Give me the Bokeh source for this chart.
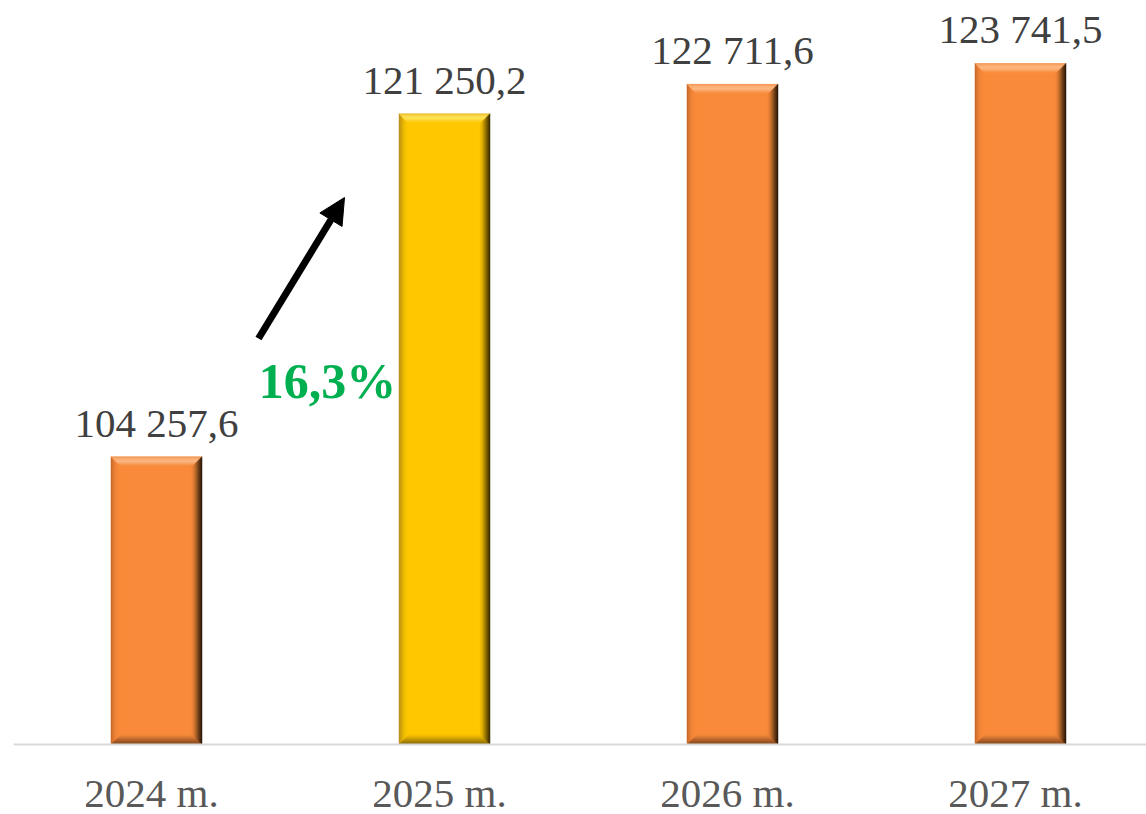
import numpy as np
from bokeh.plotting import figure
from bokeh.models import Range1d, Span, Arrow, NormalHead
from bokeh.core.properties import value
from bokeh.embed import file_html
from bokeh.resources import INLINE

# ---- data ----
years = ["2024 m.", "2025 m.", "2026 m.", "2027 m."]
values = [104257.6, 121250.2, 122711.6, 123741.5]
value_labels = ["104 257,6", "121 250,2", "122 711,6", "123 741,5"]
growth_label = "16,3%"
baseline = 90000.0

# ---- layout ----
W, H = 1146, 814
LEFT = 13
frame_w = W - LEFT
cat_px = 288.0
first_center_px = 143.0
x_start = -first_center_px / cat_px
x_end = x_start + frame_w / cat_px
upp = 49.546  # data units per pixel (y)
below_px, above_px = 70, 744
y_start = baseline - below_px * upp
y_end = baseline + above_px * upp

p = figure(width=W, height=H, x_range=Range1d(x_start, x_end), y_range=Range1d(y_start, y_end),
           output_backend="svg", toolbar_location=None, x_axis_type=None, y_axis_type=None,
           min_border_left=LEFT, min_border_right=0, min_border_top=0, min_border_bottom=0,
           outline_line_color=None, background_fill_color="white", border_fill_color="white")
p.grid.visible = False

# axis line
p.add_layout(Span(location=baseline, dimension="width", line_color="#D9D9D9", line_width=2))

xs = list(range(len(values)))
bw = 91.0 / cat_px

styles = {
    "orange": {
        "main": "#F98A3A",
        "top": ["#F29A5A", "#FCB47C", "#FDBB86", "#FAA162", "#F98C3D"],
        "right": ["#2E1A0A", "#5C3415", "#905221", "#C46F2D", "#EB8337"],
        "bottom": ["#784317", "#945120", "#B0622A", "#D27532", "#F18639"],
        "left": ["#C96A2A", "#E27A32", "#F08437", "#F7893A", "#F98A3A"],
    },
    "yellow": {
        "main": "#FFC700",
        "top": ["#EAC040", "#FDE050", "#FEE65A", "#FCD22C", "#FFC803"],
        "right": ["#3A2C00", "#6B5300", "#9D7A00", "#CFA000", "#F2BC00"],
        "bottom": ["#7A5E00", "#9A7800", "#BA9000", "#DAA900", "#F4BF00"],
        "left": ["#B89020", "#D6A808", "#EABA02", "#F8C400", "#FFC700"],
    },
}
bar_style = ["orange", "yellow", "orange", "orange"]


def hex2rgb(h):
    h = h.lstrip("#")
    return np.array([int(h[i:i + 2], 16) for i in (0, 2, 4)], dtype=float)


def interp(stops, n):
    arr = [hex2rgb(s) for s in stops]
    out = []
    for k in range(n):
        t = k / (n - 1) * (len(arr) - 1)
        i = min(int(t), len(arr) - 2)
        f = t - i
        c = arr[i] * (1 - f) + arr[i + 1] * f
        out.append("#%02x%02x%02x" % tuple(int(round(v)) for v in c))
    return out


bev_px = 10
n = 10
# main bars
p.quad(left=[x - bw / 2 for x in xs], right=[x + bw / 2 for x in xs], bottom=baseline, top=values,
       fill_color=[styles[s]["main"] for s in bar_style], line_color=None)

pxs, pys, pcs = [], [], []
for i, (x, v) in enumerate(zip(xs, values)):
    st = styles[bar_style[i]]
    xl, xr, yb, yt = x - bw / 2, x + bw / 2, baseline, v
    cols = {side: interp(st[side], n) for side in ("top", "right", "bottom", "left")}
    for k in range(n):
        ta, tb = k * bev_px / n, (k + 1) * bev_px / n
        dxa, dxb = ta / cat_px, tb / cat_px
        dya, dyb = ta * upp, tb * upp
        # left
        pxs.append([xl + dxa, xl + dxa, xl + dxb, xl + dxb]); pys.append([yt - dya, yb + dya, yb + dyb, yt - dyb]); pcs.append(cols["left"][k])
        # bottom
        pxs.append([xl + dxa, xr - dxa, xr - dxb, xl + dxb]); pys.append([yb + dya, yb + dya, yb + dyb, yb + dyb]); pcs.append(cols["bottom"][k])
        # top
        pxs.append([xl + dxa, xr - dxa, xr - dxb, xl + dxb]); pys.append([yt - dya, yt - dya, yt - dyb, yt - dyb]); pcs.append(cols["top"][k])
        # right
        pxs.append([xr - dxa, xr - dxa, xr - dxb, xr - dxb]); pys.append([yt - dya, yb + dya, yb + dyb, yt - dyb]); pcs.append(cols["right"][k])

p.patches(xs=pxs, ys=pys, fill_color=pcs, line_color=pcs, line_width=0.5)

# value labels
p.text(x=xs, y=[v + 34 * upp for v in values], text=value_labels,
       text_font=value("Liberation Serif"), text_font_size="41px", text_color="#404040",
       text_align="center", text_baseline="middle")

# category labels
p.text(x=xs, y=[baseline - 48 * upp] * len(xs), text=years, x_offset=-5,
       text_font=value("Liberation Serif"), text_font_size="41px", text_color="#595959",
       text_align="center", text_baseline="middle")

# growth arrow and label (between the first two bars)
ax0 = xs[0] + 102.0 / cat_px
ay0 = baseline + 406 * upp
ax1 = xs[0] + 188.0 / cat_px
ay1 = baseline + 547 * upp
p.add_layout(Arrow(end=NormalHead(size=26, fill_color="black", line_color="black"),
                   x_start=ax0, y_start=ay0, x_end=ax1, y_end=ay1,
                   line_width=7, line_color="black", line_cap="butt"))
p.text(x=[xs[0] + 171.0 / cat_px], y=[baseline + 364 * upp], text=[growth_label],
       text_font=value("Liberation Serif"), text_font_size="50px", text_font_style="bold",
       text_color="#00B050", text_align="center", text_baseline="middle")

open("out.html", "w").write(file_html(p, INLINE))
